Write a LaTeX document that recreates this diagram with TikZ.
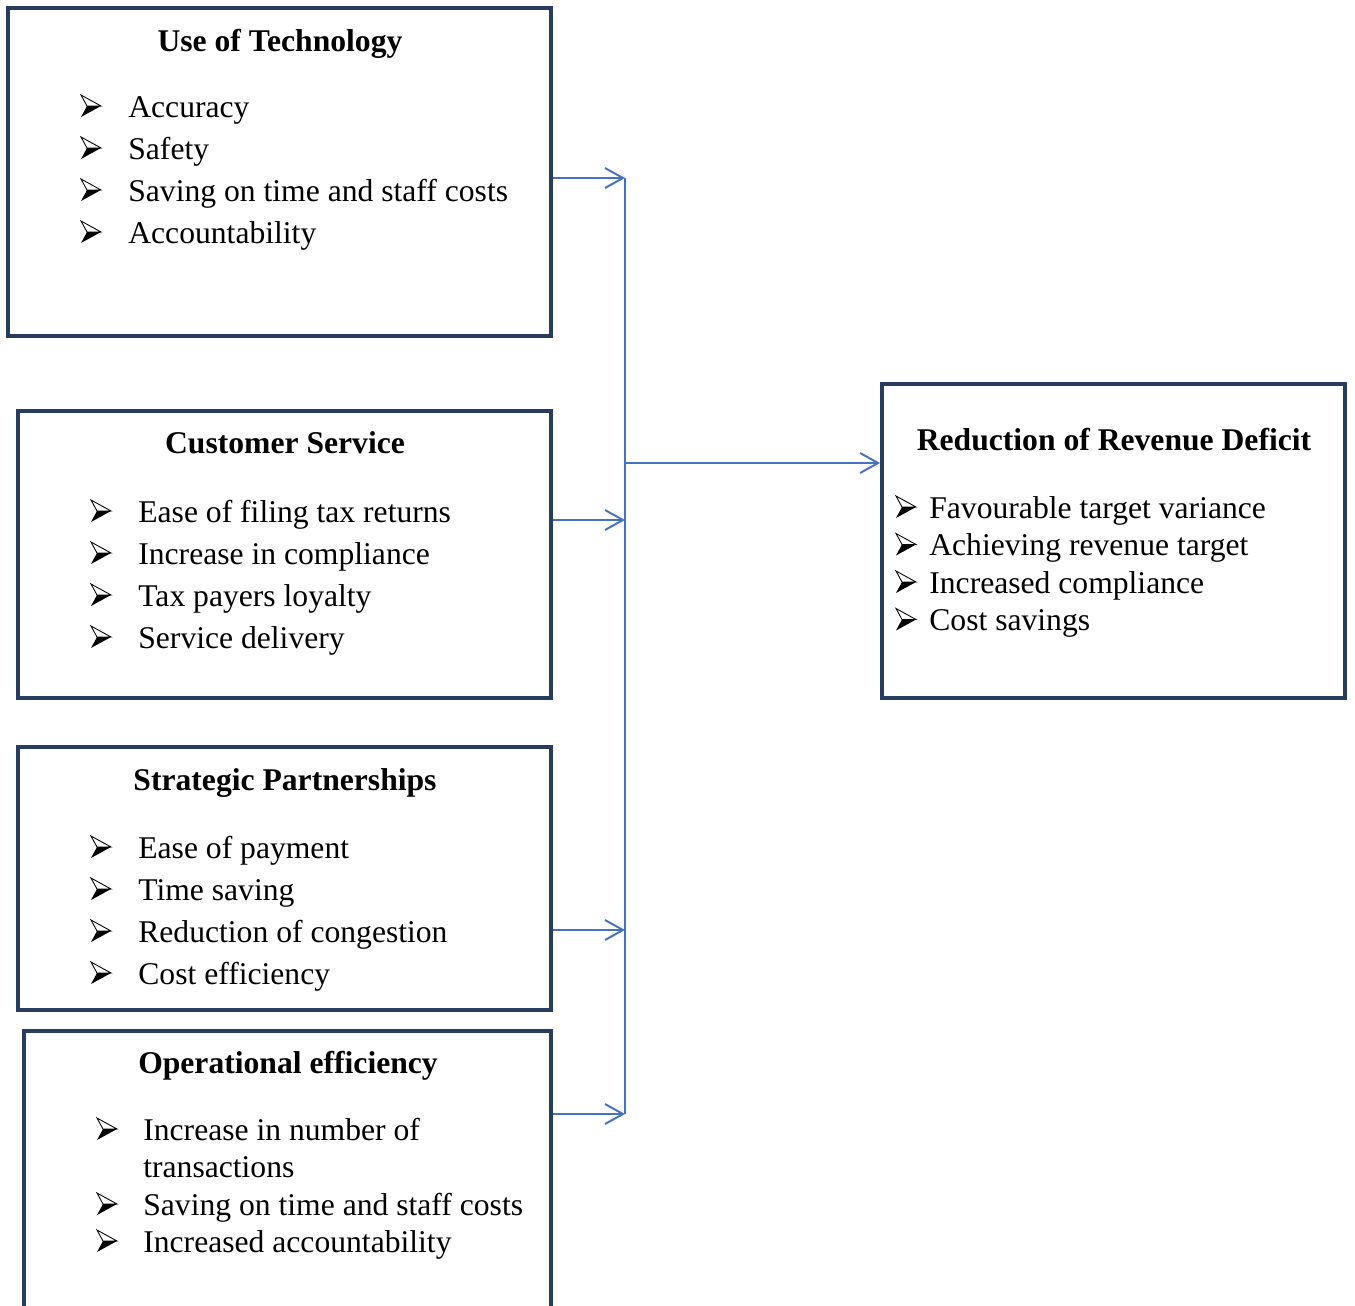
\documentclass[tikz,border=0pt]{standalone}
\usepackage{fontspec}
\setmainfont{Liberation Serif}
\usetikzlibrary{arrows.meta,fit}
\definecolor{boxnavy}{RGB}{38,61,96}
\definecolor{linkblue}{RGB}{68,114,196}
\tikzset{
  box/.style={draw=boxnavy, line width=2.2pt, inner sep=0pt},
  head/.style={anchor=base, font=\fontsize{18}{22}\selectfont\bfseries},
  item/.style={anchor=base west, inner sep=0pt, font=\fontsize{18}{22}\selectfont},
  arrowbul/.pic={
    \draw[line width=0.5pt, line join=miter] (0,-22) -- (20,-11) -- (6,-11) -- cycle;
    \fill[line join=miter] (6,-11) -- (20,-11) -- (0,0) -- cycle;
  },
  link/.style={draw=linkblue, line width=1.1pt, -{Straight Barb[length=3.6mm,width=4mm,line width=1.1pt]}},
  bus/.style={draw=linkblue, line width=1.1pt}
}
\begin{document}
\begin{tikzpicture}[x=0.02cm, y=-0.02cm]
    \clip (0,0) rectangle (1355,1305);

    % boxes
    \node (tech) [box, fit={(8,8) (551,336)}] {};
    \node (cust) [box, fit={(18,411) (551,698)}] {};
    \node (strat) [box, fit={(18,747) (551,1010)}] {};
    \node (oper) [box, fit={(24,1031) (551,1340)}] {};
    \node (red) [box, fit={(882,384) (1345,698)}] {};

    % headings
    \node (techh) at (280,51) [head] {Use of Technology};
    \node (custh) at (285,453) [head] {Customer Service};
    \node (strath) at (285,790) [head] {Strategic Partnerships};
    \node (operh) at (288,1073) [head] {Operational efficiency};
    \node (redh) at (1114,450) [head] {Reduction of Revenue Deficit};

    % bullet lists
    \foreach \t [count=\i] in {Accuracy, Safety, Saving on time and staff costs, Accountability}{
        \pic (tb\i) at (81, 75+42*\i) {arrowbul};
        \node (ti\i) at (128, 75+42*\i) [item] {\t};
    }
    \foreach \t [count=\i] in {Ease of filing tax returns, Increase in compliance, Tax payers loyalty, Service delivery}{
        \pic (cb\i) at (91, 480+42*\i) {arrowbul};
        \node (ci\i) at (138, 480+42*\i) [item] {\t};
    }
    \foreach \t [count=\i] in {Ease of payment, Time saving, Reduction of congestion, Cost efficiency}{
        \pic (sb\i) at (91, 816+42*\i) {arrowbul};
        \node (si\i) at (138, 816+42*\i) [item] {\t};
    }
    \foreach \t [count=\i] in {Favourable target variance, Achieving revenue target, Increased compliance, Cost savings}{
        \pic (rb\i) at (896, 480.5+37.5*\i) {arrowbul};
        \node (ri\i) at (929, 480.5+37.5*\i) [item] {\t};
    }
    \pic (ob1) at (97,1140) {arrowbul};
    \node (oi1) at (143,1140) [item] {Increase in number of};
    \node (oi1b) at (143,1177) [item] {transactions};
    \pic (ob2) at (97,1215) {arrowbul};
    \node (oi2) at (143,1215) [item] {Saving on time and staff costs};
    \pic (ob3) at (97,1252) {arrowbul};
    \node (oi3) at (143,1252) [item] {Increased accountability};

    % connectors
    \coordinate (j1) at (625,178);
    \coordinate (j2) at (625,520);
    \coordinate (j3) at (625,930);
    \coordinate (j4) at (625,1114);
    \coordinate (jr) at (625,463);
    \draw[link] (tech.east |- j1) -- (j1);
    \draw[link] (cust.east |- j2) -- (j2);
    \draw[link] (strat.east |- j3) -- (j3);
    \draw[link] (oper.east |- j4) -- (j4);
    \draw[bus] (j1) -- (j4);
    \draw[link] (jr) -- (red.west |- jr);
\end{tikzpicture}
\end{document}
